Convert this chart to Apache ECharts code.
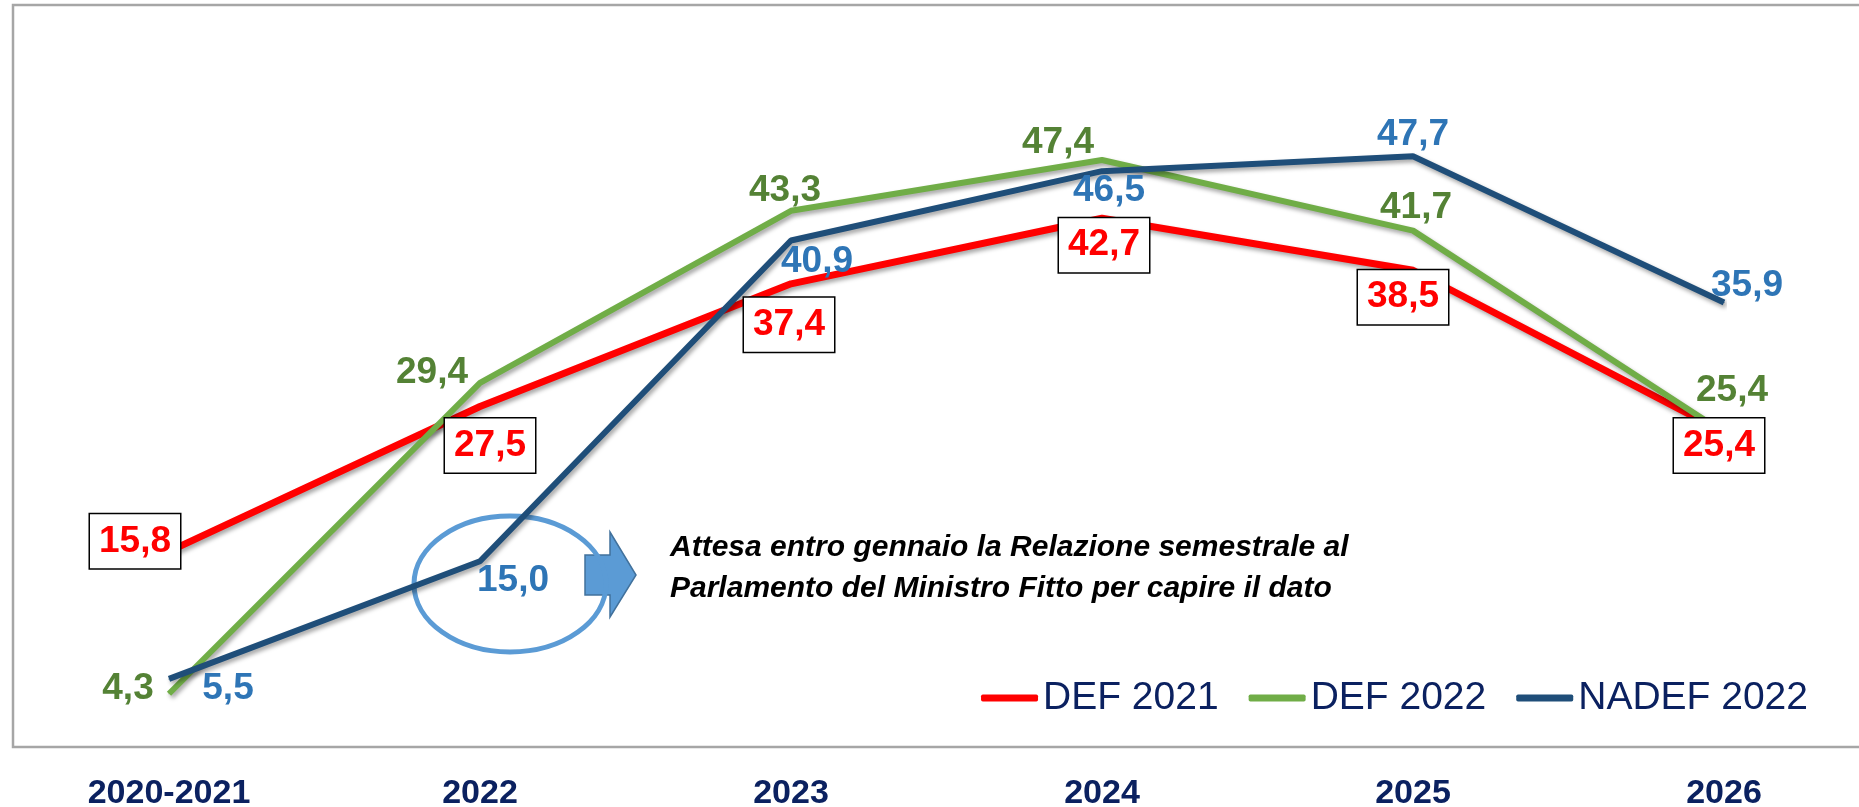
<!DOCTYPE html>
<html>
<head>
<meta charset="utf-8">
<script src="https://cdn.jsdelivr.net/npm/echarts@6/dist/echarts.min.js"></script>
<style>
html,body{margin:0;padding:0;background:#fff}
#grafico{width:1859px;height:807px}
</style>
</head>
<body>
<div id="grafico"></div>
<script>
var anni = ['2020-2021', '2022', '2023', '2024', '2025', '2026'];
var def2021 = [15.8, 27.5, 37.4, 42.7, 38.5, 25.4];
var def2022 = [4.3, 29.4, 43.3, 47.4, 41.7, 25.4];
var nadef2022 = [5.5, 15.0, 40.9, 46.5, 47.7, 35.9];

// spostamento delle etichette rispetto al punto (px)
var offRosso = [[-34, -10], [10, 39], [-2, 41], [2, 27], [-10, 27], [-5, 13]];
var offVerde = [[-41, -5], [-48, -10], [-6, -20], [-44, -17], [3, -23], [8, -42]];
var offBlu = [[59, 10], [33, 20], [26, 21], [7, 20], [0, -22], [23, -17]];

function virgola(p) {
	return p.value.toFixed(1).replace('.', ',');
}

function serie(nome, valori, colore, spessore, offs, etichetta) {
	return {
		name: nome,
		type: 'line',
		symbol: 'circle',
		symbolSize: 1,
		showSymbol: true,
		itemStyle: {color: colore},
		lineStyle: {
			color: colore,
			width: spessore,
			shadowColor: 'rgba(0,0,0,0.35)',
			shadowBlur: 4,
			shadowOffsetX: 2,
			shadowOffsetY: 3
		},
		label: etichetta,
		emphasis: {disabled: true},
		data: valori.map(function (v, i) {
			return {value: v, label: {offset: offs[i]}};
		})
	};
}

var base = {
	show: true,
	position: 'inside',
	formatter: virgola,
	fontFamily: 'Liberation Sans',
	fontWeight: 'bold',
	fontSize: 37
};

var option = {
	animation: false,
	grid: {left: 169, right: 135, top: 4, bottom: 60, outerBoundsMode: 'none'},
	xAxis: {
		type: 'category',
		data: anni,
		boundaryGap: false,
		axisLine: {show: false},
		axisTick: {show: false},
		axisLabel: {
			color: '#0b2160',
			fontFamily: 'Liberation Sans',
			fontWeight: 'bold',
			fontSize: 34,
			margin: 30
		}
	},
	yAxis: {
		type: 'value',
		min: 0,
		max: 60,
		show: false,
		splitLine: {show: false}
	},
	legend: {
		right: 46,
		top: 672,
		icon: 'roundRect',
		itemWidth: 57,
		itemHeight: 7,
		itemGap: 30,
		textStyle: {
			color: '#0b2160',
			fontFamily: 'Liberation Sans',
			fontSize: 39,
			lineHeight: 42
		},
		data: ['DEF 2021', 'DEF 2022', 'NADEF 2022']
	},
	graphic: [
		{
			type: 'rect',
			shape: {x: 13, y: 5, width: 1900, height: 742},
			style: {fill: 'none', stroke: '#a6a6a6', lineWidth: 2.5}
		},
		{
			type: 'polygon',
			shape: {points: [[585, 555], [610, 555], [610, 532], [636, 575], [610, 617], [610, 595], [585, 595]]},
			style: {fill: '#5b9bd5', stroke: '#41719c', lineWidth: 1.5}
		},
		{
			type: 'ellipse',
			shape: {cx: 510, cy: 584, rx: 96, ry: 68},
			style: {fill: 'none', stroke: '#5b9bd5', lineWidth: 5}
		},
		{
			type: 'text',
			x: 670,
			y: 527,
			style: {
				text: 'Attesa entro gennaio la Relazione semestrale al\nParlamento del Ministro Fitto per capire il dato',
				font: 'italic bold 30px "Liberation Sans"',
				lineHeight: 41,
				fill: '#000',
				verticalAlign: 'top'
			}
		}
	],
	series: [
		serie('DEF 2021', def2021, '#ff0000', 7, offRosso, Object.assign({}, base, {
			color: '#ff0000',
			backgroundColor: '#fff',
			borderColor: '#000',
			borderWidth: 1.5,
			padding: [7, 9],
			lineHeight: 40
		})),
		serie('DEF 2022', def2022, '#70ad47', 6, offVerde, Object.assign({}, base, {color: '#548235'})),
		serie('NADEF 2022', nadef2022, '#1f4e79', 6, offBlu, Object.assign({}, base, {color: '#2e75b6'}))
	]
};

var grafico = echarts.init(document.getElementById('grafico'));
grafico.setOption(option);
</script>
</body>
</html>
